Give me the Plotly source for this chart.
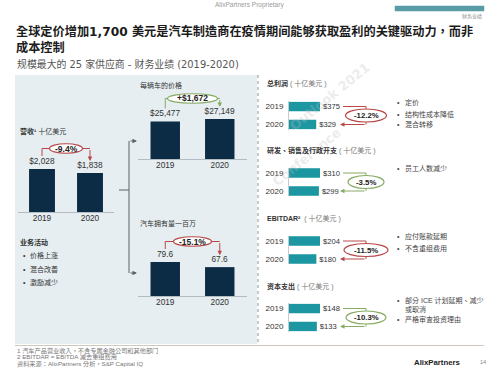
import plotly.graph_objects as go

W, H = 499, 375


def X(px):
    return px / W


def Y(py):
    return 1 - py / H


FONT = "Liberation Sans, Noto Sans CJK TC, sans-serif"
TFONT = "DejaVu Sans, Noto Sans CJK TC, sans-serif"

# ---------------- data ----------------
years = ["2019", "2020"]
revenue = [2028, 1838]
price_per_vehicle = [25477, 27149]
vehicle_units = [79.6, 67.6]
gross_profit = [375, 329]
rd_sga = [310, 299]
ebitdar = [204, 180]
capex = [148, 133]

revenue_change = "-9.4%"
price_change = "+$1,672"
units_change = "-15.1%"
gross_change = "-12.2%"
rd_change = "-3.5%"
ebitdar_change = "-11.5%"
capex_change = "-10.3%"

activity_items = ["价格上涨", "混合改善", "激励减少"]
gross_items = ["定价", "结构性成本降低", "混合转移"]
rd_items = ["员工人数减少"]
ebitdar_items = ["应付账款延期", "不含重组费用"]
capex_items = ["部分 ICE 计划延期、减少<br>或取消", "严格审查投资理由"]

footnotes = [
    "1 汽车产品营业收入，不含专属金融公司和其他部门",
    "2 EBITDAR = EBITDA 减去重组费用",
    "资料来源：AlixPartners 分析，S&P Capital IQ",
]

# ---------------- styles ----------------
NAVY = "#0c2b45"
TEAL = "#1c97a2"
RED = "#b8494a"
GREEN = "#86ab62"
DARK = "#333333"
PANEL = "#e6eef1"

fig = go.Figure()
shapes = []
annotations = []
layout_axes = {}


def txt(x, y, s, size=7.0, color=DARK, anchor="left", family=FONT, angle=0):
    annotations.append(dict(
        x=X(x), y=Y(y), xref="paper", yref="paper", text=s, showarrow=False,
        xanchor=anchor, yanchor="middle", textangle=angle,
        font=dict(family=family, size=size, color=color), align="left"))


def line(x0, y0, x1, y1, color, width=1.0, dash=None):
    shapes.append(dict(type="line", xref="paper", yref="paper",
                       x0=X(x0), y0=Y(y0), x1=X(x1), y1=Y(y1),
                       line=dict(color=color, width=width, dash=dash)))


def arrow(xh, yh, xt, yt, color, width=1.0):
    annotations.append(dict(
        x=X(xh), y=Y(yh), xref="paper", yref="paper", text="",
        showarrow=True, axref="pixel", ayref="pixel",
        ax=xt - xh, ay=yt - yh, arrowhead=2, arrowsize=0.9,
        arrowwidth=width, arrowcolor=color, standoff=0, startstandoff=0))


def ellipse(cx, cy, w, h, color, label, size=7.8):
    shapes.append(dict(type="circle", xref="paper", yref="paper",
                       x0=X(cx - w / 2), x1=X(cx + w / 2),
                       y0=Y(cy + h / 2), y1=Y(cy - h / 2),
                       fillcolor="white", line=dict(color=color, width=1.2)))
    txt(cx, cy, "<b>%s</b>" % label, size=size, color="#222", anchor="center")


# ---------------- background panel & frame ----------------
shapes.append(dict(type="rect", xref="paper", yref="paper", layer="below",
                   x0=X(15), x1=X(257), y0=Y(344), y1=Y(75),
                   fillcolor=PANEL, line=dict(width=0)))
line(258, 75, 258, 344, "#9aa6aa", 1.2, "dot")
line(15, 345.5, 484, 345.5, "#cfc9bb", 1)
# section marker bar (top right)
shapes.append(dict(type="rect", xref="paper", yref="paper", layer="above",
                   x0=X(395), x1=X(484), y0=Y(11), y1=Y(6),
                   fillcolor="#5a9ca6", line=dict(color="#5a9ca6", width=0.5)))

# watermark
txt(330, 97, "<b>Outlook 2021</b>", 13, "rgba(190,190,190,0.3)", "center", TFONT, angle=-39)
txt(306, 157, "<b>Conference</b>", 13, "rgba(190,190,190,0.3)", "center", TFONT, angle=-39)

# ---------------- header text ----------------
txt(249, 4.5, "AlixPartners Proprietary", 6.5, "#9a9a9a", "center")
txt(484, 16.5, "财务业绩", 5, "#8a8a8a", "right")
txt(14, 31, "<b>全球定价增加1,700 美元是汽车制造商在疫情期间能够获取盈利的关键驱动力，而非</b>",
    12.2, "#1b1b1b", family=TFONT)
txt(14, 47.5, "<b>成本控制</b>", 12.2, "#1b1b1b", family=TFONT)
txt(15, 64, "规模最大的 25 家供应商 - 财务业绩 (2019-2020)", 9.9, "#555555", family=TFONT)


# ---------------- vertical bar charts (left panel) ----------------
def vchart(idx, vals, labels, px0, px1, base, top, max_px, color, title,
           change, ell_w, ell_color, title_y):
    scale = max_px / max(vals)  # px per unit
    xa = "x%d" % idx
    ya = "y%d" % idx
    fig.add_trace(go.Bar(
        x=years, y=vals, text=labels, textposition="outside",
        constraintext="none", cliponaxis=False, width=0.54,
        marker=dict(color=color, line=dict(width=0)),
        textfont=dict(family=FONT, size=8.3, color=DARK),
        xaxis=xa, yaxis=ya, hoverinfo="skip"))
    layout_axes["xaxis%d" % idx] = dict(
        domain=[X(px0), X(px1)], anchor=ya, type="category",
        showline=True, linecolor="#b3bcc0", linewidth=1, ticks="",
        ticklabelstandoff=-2, showgrid=False, zeroline=False,
        tickfont=dict(family=FONT, size=8.3, color=DARK))
    layout_axes["yaxis%d" % idx] = dict(
        domain=[Y(base), Y(top)], anchor=xa, range=[0, (base - top) / scale],
        visible=False, showgrid=False, zeroline=False)
    # bracket derived from bar positions
    cat_w = (px1 - px0) / 2
    c19 = px0 + cat_w / 2
    c20 = px0 + cat_w * 1.5
    t19 = base - vals[0] * scale
    t20 = base - vals[1] * scale
    ey = min(t19, t20) - 20.5
    ex = (c19 + c20) / 2
    line(c19, t19 - 13, c19, ey, ell_color)
    line(c19, ey, ex, ey, ell_color)
    line(ex, ey, c20, ey, ell_color)
    arrow(c20, t20 - 12, c20, ey, ell_color)
    ellipse(ex, ey, ell_w, 9.5, ell_color, change, 8.5)
    txt(px0, title_y, title, 7, DARK)


vchart(1, revenue, ["$%s" % format(v, ",") for v in revenue], 18, 114, 212, 135, 43,
       NAVY, "<b>营收¹</b> 十亿美元", revenue_change, 33, RED, 131.5)
vchart(2, price_per_vehicle, ["$%s" % format(v, ",") for v in price_per_vehicle],
       138, 247, 159, 90, 40, NAVY, "每辆车的价格", price_change, 50, GREEN, 85)
vchart(3, vehicle_units, ["%.1f" % v for v in vehicle_units], 138, 247, 296, 225, 34,
       NAVY, "汽车拥有量一百万", units_change, 38, RED, 223)

# connectors between revenue and drivers
CONN = "#5b6367"
line(119, 190, 129, 190, CONN)
line(129, 141, 129, 273, CONN)
arrow(137, 141, 129, 141, CONN)
arrow(137, 273, 129, 273, CONN)

# business activities
txt(18, 242, "<b>业务活动</b>", 7, DARK)
for i, item in enumerate(activity_items):
    yy = 255.5 + i * 13.5
    txt(21, yy, "•", 7, DARK)
    txt(28, yy, item, 7, DARK)


# ---------------- horizontal bar charts (right side) ----------------
def hchart(idx, vals, title, c19, change, ell_color, ell_w, items, item_ys):
    spacing = 18.0
    scale = 31.0 / vals[0]
    px0, px1 = 289, 400
    xa = "x%d" % idx
    ya = "y%d" % idx
    fig.add_trace(go.Bar(
        y=years, x=vals, orientation="h",
        text=["$%s" % format(v, ",") for v in vals], textposition="outside",
        constraintext="none", cliponaxis=False, width=0.53,
        marker=dict(color=TEAL, line=dict(width=0)),
        textfont=dict(family=FONT, size=7.6, color=DARK),
        xaxis=xa, yaxis=ya, hoverinfo="skip"))
    top = c19 - 0.28 * spacing
    bot = c19 + 1.28 * spacing
    layout_axes["xaxis%d" % idx] = dict(
        domain=[X(px0), X(px1)], anchor=ya, range=[0, (px1 - px0) / scale],
        visible=False, showgrid=False, zeroline=False)
    layout_axes["yaxis%d" % idx] = dict(
        domain=[Y(bot), Y(top)], anchor=xa, type="category",
        range=[1.28, -0.28], showline=True, linecolor="#c5cbcd", linewidth=1,
        ticks="", ticklabelstandoff=3, showgrid=False, zeroline=False,
        tickfont=dict(family=FONT, size=8, color=DARK))
    c20 = c19 + spacing
    ex = 366
    ey = (c19 + c20) / 2
    line(343, c19, ex, c19, ell_color)
    line(ex, c19, ex, c20, ell_color)
    arrow(340, c20, ex, c20, ell_color)
    ellipse(ex, ey, ell_w, 13, ell_color, change)
    txt(265, c19 - 22.5, title, 7, DARK)
    for item, yy in zip(items, item_ys):
        txt(395, yy, "•", 7, "#444")
        txt(403, yy + (4.5 if "<br>" in item else 0), item, 7, "#444")


hchart(4, gross_profit, "<b>总利润</b><span style='color:#777'> ( 十亿美元 )</span>",
       106.5, gross_change, RED, 41, gross_items, [103, 114, 125])
hchart(5, rd_sga, "<b>研发、销售及行政开支</b><span style='color:#777'> ( 十亿美元 )</span>",
       173, rd_change, GREEN, 36, rd_items, [168.5])
hchart(6, ebitdar, "<b>EBITDAR²</b><span style='color:#777'>  ( 十亿美元 )</span>",
       241, ebitdar_change, RED, 44, ebitdar_items, [236, 248])
hchart(7, capex, "<b>资本支出</b><span style='color:#777'> ( 十亿美元 )</span>",
       308.5, capex_change, GREEN, 40, capex_items, [300, 319])

# ---------------- footer ----------------
for i, fn in enumerate(footnotes):
    txt(15, 350.5 + i * 6.8, fn, 6.2, "#777777")
txt(412, 362, "<b>AlixPartners</b>", 7.8, "#222")
txt(478, 362, "14", 5.5, "#888")

fig.update_layout(
    width=W, height=H, autosize=False,
    margin=dict(l=0, r=0, t=0, b=0),
    paper_bgcolor="white", plot_bgcolor="rgba(0,0,0,0)",
    showlegend=False, hovermode=False,
    font=dict(family=FONT),
    shapes=shapes, annotations=annotations,
    **layout_axes)
fig.write_html("out.html", config={"displayModeBar": False},
               post_script="document.body.style.margin='0px';")
